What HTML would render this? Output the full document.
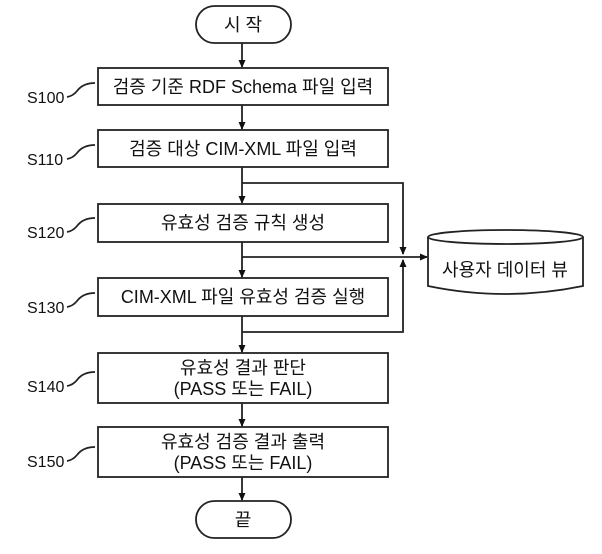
<!DOCTYPE html>
<html><head><meta charset="utf-8"><style>
body{margin:0;background:#fff}
svg text{font-family:"Liberation Sans","Noto Sans CJK KR",sans-serif;font-size:18px;fill:#111}
</style></head><body>
<svg width="602" height="549" viewBox="0 0 602 549" xmlns="http://www.w3.org/2000/svg">
<defs><marker id="a" markerWidth="8" markerHeight="8" refX="7" refY="4" orient="auto" markerUnits="userSpaceOnUse"><path d="M0,0.5 L8,4 L0,7.5z" fill="#111"/></marker></defs>
<g fill="none" stroke="#222" stroke-width="1.8">
<rect x="196" y="6" width="95" height="37" rx="18.5"/>
<rect x="98" y="68" width="290" height="37"/>
<rect x="98" y="130" width="290" height="37"/>
<rect x="98" y="204" width="290" height="38"/>
<rect x="98" y="278" width="290" height="38"/>
<rect x="98" y="353" width="290" height="50"/>
<rect x="98" y="427" width="290" height="50"/>
<rect x="196" y="501" width="95" height="37" rx="18.5"/>
<line x1="242" y1="43" x2="242" y2="67" marker-end="url(#a)"/>
<line x1="242" y1="105" x2="242" y2="129" marker-end="url(#a)"/>
<line x1="242" y1="167" x2="242" y2="203" marker-end="url(#a)"/>
<line x1="242" y1="242" x2="242" y2="277" marker-end="url(#a)"/>
<line x1="242" y1="316" x2="242" y2="352" marker-end="url(#a)"/>
<line x1="242" y1="403" x2="242" y2="426" marker-end="url(#a)"/>
<line x1="242" y1="477" x2="242" y2="500" marker-end="url(#a)"/>
<polyline points="242,183 403,183 403,254" marker-end="url(#a)"/>
<polyline points="242,332 403,332 403,260" marker-end="url(#a)"/>
<line x1="242" y1="257" x2="427" y2="257" marker-end="url(#a)"/>
<path d="M428,237 L428,286 Q505,302 583,286 L583,237"/>
<ellipse cx="505.5" cy="237" rx="77.5" ry="7"/>
<path d="M67,97 q6,-1 10,-6 q6,-8 18,-8" />
<path d="M67,159 q6,-1 10,-6 q6,-8 18,-8" />
<path d="M67,232 q6,-1 10,-6 q6,-8 18,-8" />
<path d="M67,307 q6,-1 10,-6 q6,-8 18,-8" />
<path d="M67,386 q6,-1 10,-6 q6,-8 18,-8" />
<path d="M67,461 q6,-1 10,-6 q6,-8 18,-8" />
</g>
<g text-anchor="middle">
<text x="243" y="31">시 작</text>
<text x="243" y="93">검증 기준 RDF Schema 파일 입력</text>
<text x="243" y="155">검증 대상 CIM-XML 파일 입력</text>
<text x="243" y="229">유효성 검증 규칙 생성</text>
<text x="243" y="303">CIM-XML 파일 유효성 검증 실행</text>
<text x="243" y="374">유효성 결과 판단</text>
<text x="243" y="395">(PASS 또는 FAIL)</text>
<text x="243" y="448">유효성 검증 결과 출력</text>
<text x="243" y="469">(PASS 또는 FAIL)</text>
<text x="243" y="526">끝</text>
<text x="505" y="276">사용자 데이터 뷰</text>
</g>
<g>
<text x="27" y="103" style="font-size:16px">S100</text>
<text x="27" y="165" style="font-size:16px">S110</text>
<text x="27" y="238" style="font-size:16px">S120</text>
<text x="27" y="313" style="font-size:16px">S130</text>
<text x="27" y="392" style="font-size:16px">S140</text>
<text x="27" y="467" style="font-size:16px">S150</text>
</g>
</svg>
</body></html>
